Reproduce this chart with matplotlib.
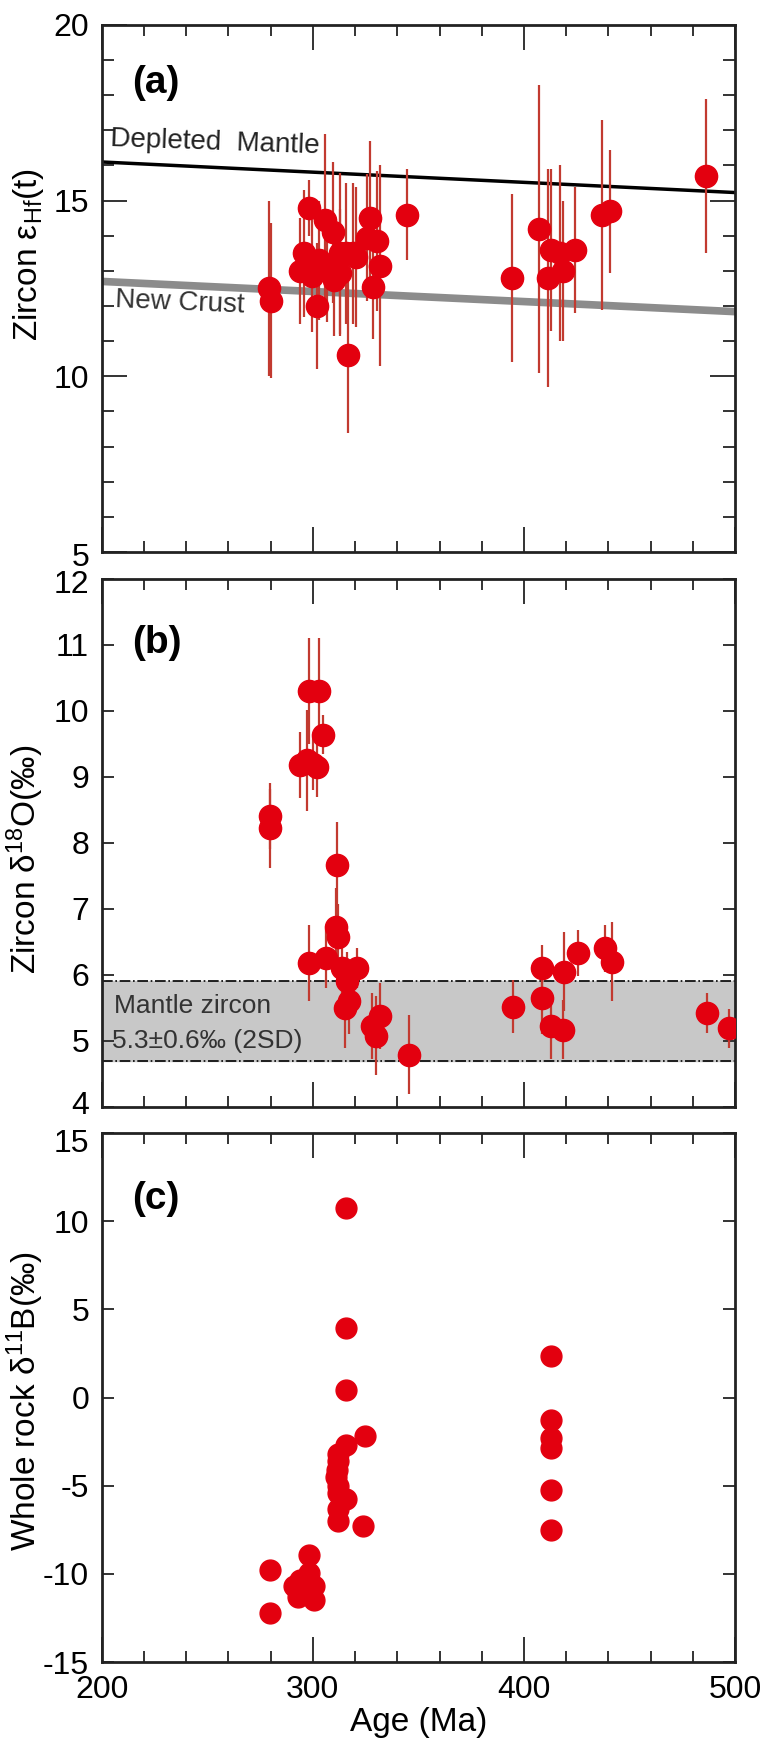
import matplotlib
matplotlib.use("Agg")
import matplotlib.pyplot as plt
from matplotlib.ticker import MultipleLocator
from matplotlib.transforms import ScaledTranslation

plt.rcParams['font.family'] = ['Liberation Sans', 'DejaVu Sans']
plt.rcParams['mathtext.fontset'] = 'custom'
plt.rcParams['mathtext.rm'] = 'Liberation Sans'
plt.rcParams['mathtext.it'] = 'Liberation Sans'
plt.rcParams['axes.unicode_minus'] = False

# (a) zircon eHf(t)
hf_age = [279, 280, 294, 296, 298, 299.5, 301.8, 303, 305.8, 306.6, 309.7, 310,
          312.9, 312.9, 315.7, 316.8, 319, 320.5, 325.5, 327.1, 328.7, 330.3, 331.8,
          344.5, 394.2, 407.3, 411.6, 412.8, 417.1, 418.7, 424.2, 436.8, 440.8, 486.2]
hf_val = [12.5, 12.15, 13.0, 13.5, 14.8, 12.85, 12.0, 13.3, 14.45, 13.05, 14.1, 12.75,
          13.5, 12.95, 13.5, 10.6, 13.5, 13.4, 13.95, 14.5, 12.55, 13.85, 13.15,
          14.6, 12.8, 14.2, 12.8, 13.6, 13.5, 13.0, 13.6, 14.6, 14.7, 15.7]
hf_err = [2.5, 2.2, 1.5, 1.8, 0.8, 1.6, 1.8, 1.7, 2.45, 1.5, 2.0, 1.6,
          2.3, 1.8, 2.0, 2.2, 2.0, 2.0, 1.8, 2.2, 1.5, 2.0, 2.85,
          1.3, 2.4, 4.1, 3.1, 2.3, 2.5, 2.0, 1.8, 2.7, 1.75, 2.2]

# evolution lines
dm_age = [200, 500]
dm_val = [16.1, 15.23]
nc_age = [200, 500]
nc_val = [12.7, 11.84]

# (b) zircon d18O
o_age = [279.5, 279.5, 298, 302.7, 294, 297, 300, 302, 305, 311.5, 311, 312,
         298, 306, 314, 316, 317, 315, 321, 328, 332, 330, 345.7, 394.9,
         408.4, 408.4, 413, 418.4, 418.8, 425.4, 438.6, 441.6, 486.9, 497.1]
o_val = [8.40, 8.22, 10.3, 10.3, 9.18, 9.25, 9.2, 9.15, 9.64, 7.67, 6.72, 6.58,
         6.18, 6.25, 6.1, 5.9, 5.6, 5.5, 6.1, 5.22, 5.38, 5.08, 4.79, 5.52,
         6.10, 5.65, 5.22, 5.17, 6.05, 6.33, 6.40, 6.20, 5.42, 5.19]
o_err = [0.5, 0.6, 0.8, 0.8, 0.5, 0.77, 0.4, 0.45, 0.3, 0.65, 0.6, 0.5,
         0.57, 0.45, 0.5, 0.45, 0.5, 0.6, 0.3, 0.5, 0.5, 0.6, 0.6, 0.4,
         0.35, 0.55, 0.5, 0.45, 0.6, 0.35, 0.35, 0.6, 0.3, 0.3]
mantle_lo, mantle_hi = 4.7, 5.9

# (c) whole rock d11B
b_age = [315.5, 315.5, 315.5, 413, 413, 413, 413, 413, 413, 324.8, 323.6,
         315.5, 312, 312, 311.5, 311, 312, 312, 315.5, 312, 312,
         279.5, 279.5, 298, 294, 296.4, 290.9, 298, 300.5, 300.5, 293]
b_val = [10.73, 3.92, 0.43, 2.35, -1.28, -2.3, -2.85, -5.25, -7.5, -2.18, -7.29,
         -2.7, -3.2, -3.6, -4.1, -4.5, -5.0, -5.4, -5.75, -6.3, -7.0,
         -9.78, -12.24, -8.93, -10.35, -11.0, -10.7, -9.97, -10.7, -11.48, -11.3]

red = '#e3000f'
ebar = '#c23a30'
fs = 23

fig = plt.figure(figsize=(7.66, 17.44), dpi=100)
ax_a = fig.add_axes([0.1328, 0.6835, 0.8268, 0.3022])
ax_b = fig.add_axes([0.1328, 0.3653, 0.8268, 0.3028])
ax_c = fig.add_axes([0.1328, 0.0470, 0.8268, 0.3033])


def style(ax, ymaj, ymin=None):
    ax.set_xlim(200, 500)
    ax.xaxis.set_major_locator(MultipleLocator(100))
    ax.xaxis.set_minor_locator(MultipleLocator(20))
    ax.yaxis.set_major_locator(MultipleLocator(ymaj))
    if ymin:
        ax.yaxis.set_minor_locator(MultipleLocator(ymin))
        ylen = 18
    else:
        ylen = 8.5
    ax.tick_params(axis='x', which='major', direction='in', top=True, bottom=True,
                   length=18, width=1.4, color='#333333', labelsize=fs, pad=9)
    ax.tick_params(axis='x', which='minor', direction='in', top=True, bottom=True,
                   length=8, width=1.4, color='#333333')
    ax.tick_params(axis='y', which='major', direction='in', left=True, right=True,
                   length=ylen, width=1.4, color='#333333', labelsize=fs, pad=9)
    ax.tick_params(axis='y', which='minor', direction='in', left=True, right=True,
                   length=8.5, width=1.4, color='#333333')
    for s in ax.spines.values():
        s.set_linewidth(2)
        s.set_color('#222222')


# panel a
ax_a.plot(dm_age, dm_val, color='black', lw=2.5, zorder=2)
ax_a.plot(nc_age, nc_val, color='#8c8c8c', lw=5.5, zorder=2)
ax_a.errorbar(hf_age, hf_val, yerr=hf_err, fmt='o', color=red, ms=16,
              ecolor=ebar, elinewidth=1.6, capsize=0, zorder=3)
ax_a.text(204, 16.35, 'Depleted  Mantle', fontsize=20, color='#222222', rotation=-2)
ax_a.text(206, 11.8, 'New Crust', fontsize=20, color='#333333', rotation=-2.5)
ax_a.text(0.048, 0.89, '(a)', transform=ax_a.transAxes, fontsize=28,
          fontweight='bold', va='center', ha='left')
ax_a.set_ylim(5, 20)
style(ax_a, 5, 1)
ax_a.set_xticklabels([])
ax_a.set_ylabel('Zircon ε$_{\\mathregular{Hf}}$(t)', fontsize=24)
ax_a.yaxis.set_label_coords(-0.088, 0.564)

# panel b
ax_b.axhspan(mantle_lo, mantle_hi, color='#c8c8c8', zorder=1)
ax_b.axhline(mantle_lo, color='black', lw=1.2, ls='-.', zorder=1.5)
ax_b.axhline(mantle_hi, color='black', lw=1.2, ls='-.', zorder=1.5)
ax_b.errorbar(o_age, o_val, yerr=o_err, fmt='o', color=red, ms=16,
              ecolor=ebar, elinewidth=1.6, capsize=0, zorder=3)
ax_b.text(206, 5.42, 'Mantle zircon', fontsize=19, color='#333333')
ax_b.text(205, 4.9, '5.3±0.6‰ (2SD)', fontsize=19, color='#333333')
ax_b.text(0.048, 0.879, '(b)', transform=ax_b.transAxes, fontsize=28,
          fontweight='bold', va='center', ha='left')
ax_b.set_ylim(4, 12)
style(ax_b, 1)
ax_b.set_xticklabels([])
ax_b.set_ylabel('Zircon δ$^{18}$O(‰)', fontsize=24)
ax_b.yaxis.set_label_coords(-0.088, 0.468)

# panel c
ax_c.plot(b_age, b_val, 'o', color=red, ms=15, zorder=3)
ax_c.text(0.048, 0.875, '(c)', transform=ax_c.transAxes, fontsize=28,
          fontweight='bold', va='center', ha='left')
ax_c.set_ylim(-15, 15)
style(ax_c, 5)
ax_c.set_ylabel('Whole rock δ$^{11}$B(‰)', fontsize=24)
ax_c.yaxis.set_label_coords(-0.088, 0.493)
ax_c.set_xlabel('Age (Ma)', fontsize=24, labelpad=2)

# nudge the crowded edge labels apart a little
fig.canvas.draw()
for ax, idx, dy in [(ax_a, 0, -2), (ax_b, -1, -2), (ax_b, 0, 3), (ax_c, -1, -5)]:
    locs = ax.get_yticks()
    ticks = [t for t, v in zip(ax.yaxis.get_major_ticks(), locs)
             if ax.get_ylim()[0] <= v <= ax.get_ylim()[1]]
    lab = ticks[idx].label1
    lab.set_transform(lab.get_transform() + ScaledTranslation(0, dy / 72, fig.dpi_scale_trans))

fig.savefig('out.png', dpi=100)
